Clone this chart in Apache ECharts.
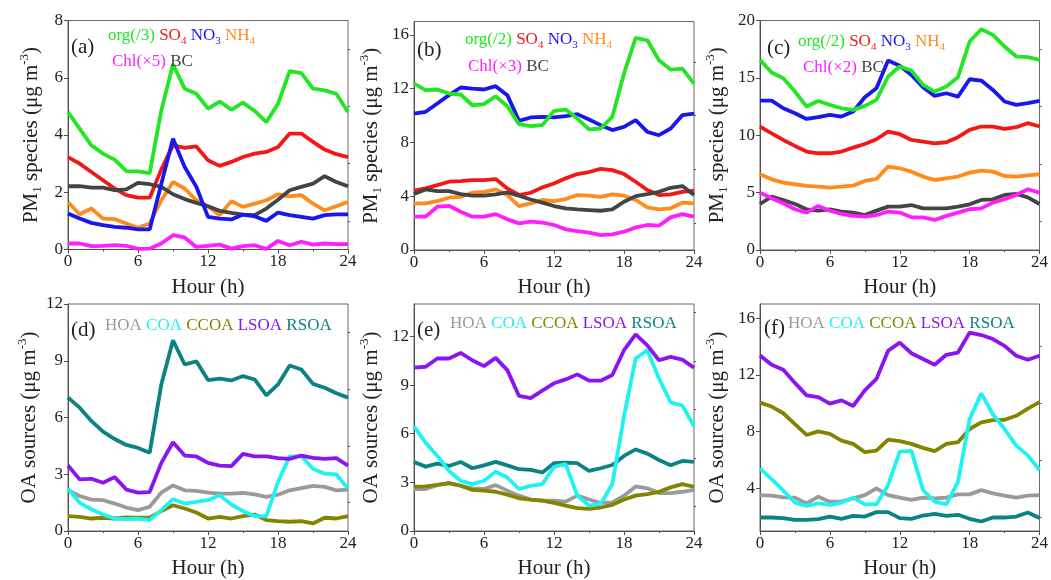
<!DOCTYPE html>
<html><head><meta charset="utf-8">
<script src="https://cdn.jsdelivr.net/npm/echarts@6/dist/echarts.min.js"></script>
<style>html,body{margin:0;padding:0;background:#fff}#c{width:1051px;height:580px}</style>
</head><body><div id="c"></div>
<script>
const hours = [0,1,2,3,4,5,6,7,8,9,10,11,12,13,14,15,16,17,18,19,20,21,22,23,24];

// Panel (a)
const a_org = [4.80,4.22,3.64,3.35,3.14,2.74,2.73,2.67,4.86,6.47,5.62,5.44,4.92,5.17,4.88,5.13,4.84,4.45,5.09,6.23,6.16,5.62,5.56,5.44,4.80];
const a_so4 = [3.23,3.00,2.71,2.42,2.13,1.90,1.81,1.81,2.80,3.64,3.55,3.60,3.12,2.92,3.06,3.23,3.35,3.41,3.58,4.05,4.05,3.76,3.49,3.33,3.23];
const a_no3 = [1.26,1.08,0.93,0.85,0.79,0.76,0.70,0.70,2.30,3.87,2.88,2.19,1.14,1.08,1.05,1.22,1.16,1.00,1.29,1.20,1.14,1.08,1.20,1.23,1.23];
const a_nh4 = [1.66,1.23,1.43,1.08,1.06,0.91,0.76,0.91,1.72,2.36,2.13,1.72,1.51,1.20,1.69,1.49,1.60,1.72,1.93,1.86,1.90,1.60,1.37,1.51,1.66];
const a_chl = [0.21,0.21,0.12,0.13,0.15,0.13,0.02,0.03,0.21,0.50,0.42,0.09,0.13,0.17,0.03,0.12,0.15,0.02,0.30,0.15,0.27,0.17,0.21,0.19,0.19];
const a_bc  = [2.21,2.21,2.16,2.16,2.07,2.10,2.33,2.28,2.19,1.93,1.76,1.63,1.51,1.35,1.28,1.22,1.20,1.43,1.74,2.07,2.19,2.30,2.56,2.36,2.21];

// Panel (b)
const b_org = [12.38,11.89,11.94,11.64,11.57,10.77,10.85,11.44,10.70,9.36,9.21,9.29,10.35,10.45,9.78,8.97,9.04,9.91,13.13,15.78,15.60,14.12,13.42,13.50,12.38];
const b_so4 = [4.41,4.58,4.83,5.08,5.13,5.20,5.20,5.28,4.58,4.09,4.26,4.66,4.95,5.33,5.65,5.80,6.04,5.94,5.65,5.08,4.46,4.09,4.14,4.33,4.41];
const b_no3 = [10.15,10.28,10.90,11.52,12.09,12.01,11.94,12.19,11.52,9.61,9.86,9.91,9.86,9.96,10.11,9.71,9.29,8.92,9.16,9.66,8.79,8.54,9.04,10.03,10.15];
const b_nh4 = [3.47,3.47,3.64,3.89,3.96,4.26,4.33,4.51,4.09,3.27,3.47,3.72,3.64,3.79,4.09,4.04,3.96,4.14,4.04,3.72,3.17,3.02,3.10,3.52,3.47];
const b_chl = [2.48,2.48,3.22,3.29,2.85,2.48,2.48,2.67,2.28,1.98,2.11,2.03,1.86,1.54,1.41,1.29,1.11,1.16,1.36,1.68,1.86,1.81,2.43,2.67,2.48];
const b_bc  = [4.16,4.51,4.38,4.38,4.16,4.04,4.04,4.14,4.28,4.04,3.76,3.52,3.27,3.10,3.02,2.97,2.92,3.02,3.59,4.01,4.16,4.33,4.63,4.76,4.09];

// Panel (c)
const c_org = [16.57,15.47,14.97,13.81,12.50,12.99,12.65,12.35,12.21,12.56,13.08,15.12,15.99,15.64,14.39,13.81,14.24,15.06,18.17,19.24,18.75,17.73,16.86,16.80,16.57];
const c_so4 = [10.76,10.17,9.59,9.07,8.58,8.43,8.43,8.58,8.92,9.24,9.65,10.32,10.09,9.59,9.45,9.30,9.39,9.83,10.47,10.76,10.76,10.55,10.70,11.05,10.76];
const c_no3 = [13.02,13.02,12.35,11.92,11.42,11.57,11.77,11.63,12.06,13.31,14.10,16.51,16.05,15.26,14.19,13.43,13.66,13.37,14.88,14.77,13.95,12.94,12.65,12.79,12.99];
const c_nh4 = [6.60,6.16,5.87,5.73,5.58,5.52,5.44,5.52,5.61,6.02,6.19,7.27,7.12,6.83,6.40,6.10,6.25,6.40,6.74,6.92,6.83,6.45,6.40,6.51,6.60];
const c_chl = [5.00,4.51,4.07,3.55,3.26,3.84,3.43,3.14,2.97,2.91,3.05,3.34,3.26,2.85,2.85,2.62,2.97,3.26,3.55,3.63,4.13,4.42,4.80,5.29,5.00];
const c_bc  = [4.01,4.65,4.36,4.01,3.55,3.43,3.55,3.34,3.26,3.05,3.43,3.78,3.78,3.92,3.63,3.63,3.63,3.78,3.98,4.36,4.42,4.80,4.88,4.59,4.01];

// Panel (d)
const d_hoa  = [2.15,1.85,1.66,1.63,1.45,1.24,1.10,1.28,2.03,2.41,2.15,2.12,2.03,1.98,1.98,2.01,1.94,1.80,1.92,2.15,2.27,2.38,2.33,2.15,2.19];
const d_coa  = [2.24,1.49,1.15,0.87,0.66,0.63,0.66,0.58,1.10,1.68,1.45,1.54,1.63,1.89,1.40,1.05,0.79,0.79,2.59,3.95,3.95,3.29,3.03,2.99,2.24];
const d_ccoa = [0.79,0.75,0.66,0.70,0.66,0.72,0.70,0.70,1.05,1.36,1.19,0.98,0.66,0.75,0.66,0.79,0.87,0.58,0.52,0.49,0.52,0.40,0.70,0.66,0.79];
const d_lsoa = [3.46,2.73,2.76,2.55,2.85,2.19,2.03,2.06,3.60,4.69,3.99,3.94,3.60,3.46,3.43,4.08,3.94,3.95,3.85,3.81,3.99,3.87,3.81,3.85,3.46];
const d_rsoa = [7.05,6.52,5.82,5.25,4.86,4.55,4.39,4.13,7.75,10.08,8.80,8.97,7.98,8.06,7.96,8.19,8.01,7.17,7.75,8.75,8.54,7.78,7.57,7.28,7.05];

// Panel (e)
const e_hoa  = [2.59,2.59,2.83,2.95,2.79,2.63,2.59,2.83,2.49,2.18,1.94,1.87,1.87,1.81,2.18,1.94,1.73,1.77,2.18,2.75,2.63,2.34,2.34,2.42,2.53];
const e_coa  = [6.46,5.44,4.63,3.71,3.10,2.89,3.10,3.65,3.30,2.59,2.79,2.89,3.95,4.12,2.18,1.57,1.67,2.89,7.07,10.64,11.15,9.41,7.93,7.74,6.46];
const e_ccoa = [2.73,2.75,2.85,2.95,2.79,2.53,2.49,2.42,2.24,2.02,1.94,1.87,1.73,1.57,1.41,1.37,1.45,1.61,1.94,2.18,2.28,2.42,2.69,2.89,2.73];
const e_lsoa = [10.07,10.13,10.64,10.64,10.98,10.53,10.17,10.68,9.92,8.33,8.19,8.66,9.11,9.35,9.66,9.27,9.27,9.62,11.15,12.12,11.45,10.53,10.74,10.57,10.07];
const e_rsoa = [4.26,3.97,4.16,4.01,4.26,3.87,4.05,4.26,4.05,3.81,3.77,3.61,4.18,4.22,4.18,3.71,3.87,4.07,4.63,5.03,4.77,4.38,4.05,4.32,4.26];

// Panel (f)
const f_hoa  = [3.53,3.49,3.37,3.35,2.95,3.42,3.07,3.07,3.30,3.53,4.00,3.53,3.35,3.19,3.35,3.30,3.35,3.58,3.58,3.88,3.65,3.49,3.35,3.49,3.53];
const f_coa  = [5.40,4.65,3.84,3.00,2.77,2.95,2.84,3.00,3.35,2.88,2.88,4.23,6.60,6.65,3.88,3.07,2.88,4.47,8.88,10.70,9.23,8.19,7.02,6.33,5.28];
const f_ccoa = [10.05,9.77,9.30,8.53,7.77,8.02,7.84,7.37,7.14,6.56,6.67,7.44,7.33,7.14,6.86,6.63,7.14,7.26,8.19,8.65,8.81,8.84,9.12,9.63,10.09];
const f_lsoa = [13.37,12.72,12.37,11.44,10.56,10.44,9.98,10.21,9.81,10.91,11.72,13.70,14.28,13.53,13.12,12.72,13.42,13.58,14.98,14.81,14.53,14.05,13.35,13.07,13.35];
const f_rsoa = [1.95,1.95,1.91,1.79,1.79,1.84,2.02,1.86,2.07,2.02,2.33,2.33,1.91,1.86,2.09,2.21,2.07,2.14,1.86,1.67,1.95,1.95,2.02,2.30,1.91];

// Axis ticks
const xTicks = [0,6,12,18,24];
const yMajor = {a:[0,2,4,6,8], b:[0,4,8,12,16], c:[0,5,10,15,20], d:[0,3,6,9,12], e:[0,3,6,9,12], f:[4,8,12,16]};
const yMinor = {a:[1,3,5,7], b:[2,6,10,14], c:[2.5,7.5,12.5,17.5], d:[1.5,4.5,7.5,10.5], e:[1.5,4.5,7.5,10.5,13.5], f:[2,6,10,14]};
const yRange = {a:[0,8], b:[0,17], c:[0,20], d:[0,12], e:[0,14], f:[1,17]};

const COL = {org:'#22e622', so4:'#f21818', no3:'#1818ee', nh4:'#ff8c1a', chl:'#ff1eff', bc:'#444444',
             hoa:'#9a9a9a', coa:'#1ff2f2', ccoa:'#848400', lsoa:'#8a14f2', rsoa:'#0c8282'};

const FONT = 'Liberation Serif';
const grids = [
  {left:68, top:20.5, width:280, height:229},
  {left:414, top:21.5, width:280, height:228.5},
  {left:760, top:20.5, width:280, height:229.5},
  {left:68, top:304, width:280, height:229},
  {left:414, top:304, width:280, height:228.5},
  {left:760, top:304, width:280, height:228.5}
];
const keys = ['a','b','c','d','e','f'];
const panelSeries = [
  [['org',a_org],['so4',a_so4],['nh4',a_nh4],['bc',a_bc],['no3',a_no3],['chl',a_chl]],
  [['so4',b_so4],['nh4',b_nh4],['bc',b_bc],['chl',b_chl],['no3',b_no3],['org',b_org]],
  [['so4',c_so4],['nh4',c_nh4],['bc',c_bc],['chl',c_chl],['no3',c_no3],['org',c_org]],
  [['hoa',d_hoa],['ccoa',d_ccoa],['coa',d_coa],['lsoa',d_lsoa],['rsoa',d_rsoa]],
  [['hoa',e_hoa],['ccoa',e_ccoa],['rsoa',e_rsoa],['coa',e_coa],['lsoa',e_lsoa]],
  [['rsoa',f_rsoa],['hoa',f_hoa],['ccoa',f_ccoa],['coa',f_coa],['lsoa',f_lsoa]]
];

const axisColor = '#505050';
const nameRich = {
  sub:{fontFamily:FONT, fontSize:13, fontWeight:'normal', verticalAlign:'bottom', color:'#222'},
  sup:{fontFamily:FONT, fontSize:13, fontWeight:'normal', verticalAlign:'top', color:'#222'}
};

const xAxes = [], yAxes = [], series = [];
grids.forEach((g, i) => {
  g.show = true; g.borderColor = '#6a6a6a'; g.borderWidth = 1; g.backgroundColor = 'transparent';
  xAxes.push({
    type:'value', gridIndex:i, min:0, max:24, interval:6,
    axisLine:{lineStyle:{color:axisColor, width:1}},
    axisTick:{length:4, lineStyle:{color:axisColor}},
    minorTick:{show:true, splitNumber:2, length:2, lineStyle:{color:axisColor}},
    splitLine:{show:false},
    axisLabel:{fontFamily:FONT, fontSize:17, fontWeight:'normal', color:'#222', margin:4},
    name:'Hour (h)', nameLocation:'middle', nameGap:27,
    nameTextStyle:{fontFamily:FONT, fontSize:21, fontWeight:'normal', color:'#222'}
  });
  const k = keys[i];
  const top = i < 3;
  yAxes.push({
    type:'value', gridIndex:i, min:yRange[k][0], max:yRange[k][1],
    axisLine:{lineStyle:{color:axisColor, width:1}},
    axisTick:{length:4, customValues:yMajor[k], lineStyle:{color:axisColor}},
    splitLine:{show:false},
    axisLabel:{fontFamily:FONT, fontSize:17, fontWeight:'normal', color:'#222', margin:5, customValues:yMajor[k]},
    name: top ? 'PM{sub|1} species (μg m{sup|-3})' : 'OA sources (μg m{sup|-3})',
    nameLocation:'middle', nameRotate:90, nameGap: (k==='b'||k==='c'||k==='e'||k==='f') ? 30 : 24,
    nameTextStyle:{fontFamily:FONT, fontSize:21, fontWeight:'normal', color:'#222', lineHeight:26, rich:nameRich}
  });
  yAxes.push({
    type:'value', gridIndex:i, min:yRange[k][0], max:yRange[k][1],
    axisLine:{show:false}, splitLine:{show:false},
    axisTick:{length:2, customValues:yMinor[k], lineStyle:{color:axisColor}},
    axisLabel:{show:false, customValues:yMinor[k]}
  });
  panelSeries[i].forEach(([key, vals]) => {
    series.push({
      type:'line', xAxisIndex:i, yAxisIndex:2*i, symbol:'none', smooth:false,
      lineStyle:{color:COL[key], width:3.8}, itemStyle:{color:COL[key]},
      data: hours.map((h, j) => [h, vals[j]])
    });
  });
});

function rs(color, size, extra) { return Object.assign({fontFamily:FONT, fontSize:size, fontWeight:'normal', color:color, lineHeight:22}, extra||{}); }
const legRich = {};
Object.keys(COL).forEach(c => {
  legRich[c] = rs(COL[c], 17);
  legRich[c + 's'] = {fontFamily:FONT, fontSize:11, fontWeight:'normal', color:COL[c], verticalAlign:'bottom'};
});
const ionLine = (org) => '{org|' + org + '} {so4|SO}{so4s|4} {no3|NO}{no3s|3} {nh4|NH}{nh4s|4}';
const chlLine = (f) => '{chl|Chl(×' + f + ')} {bc|BC}';
const oaLine = '{hoa|HOA} {coa|COA} {ccoa|CCOA} {lsoa|LSOA} {rsoa|RSOA}';

const titles = [];
function addTitle(text, left, topPx, rich, size) {
  titles.push({text:text, left:left, top:topPx, padding:0,
    textStyle:{fontFamily:FONT, fontSize:size||17, fontWeight:'normal', color:'#222', lineHeight:22, rich:rich||legRich}});
}
const labStyle = {fontFamily:FONT, fontSize:21, color:'#222'};
// panel letters
[['(a)',71,37],['(b)',417,40],['(c)',767,38],['(d)',71,320],['(e)',417,320],['(f)',764,318]].forEach(t => {
  titles.push({text:t[0], left:t[1], top:t[2], padding:0, textStyle:Object.assign({fontWeight:'normal'}, labStyle)});
});
addTitle(ionLine('org(/3)'), 108, 25);
addTitle(chlLine(5), 112, 51);
addTitle(ionLine('org(/2)'), 465, 29);
addTitle(chlLine(3), 468, 56);
addTitle(ionLine('org(/2)'), 798, 31);
addTitle(chlLine(2), 803, 57);
addTitle(oaLine, 105, 315);
addTitle(oaLine, 450, 313);
addTitle(oaLine, 788, 313);

const chart = echarts.init(document.getElementById('c'), null, {renderer:'canvas'});
chart.setOption({
  animation:false, backgroundColor:'#fff',
  title:titles, grid:grids, xAxis:xAxes, yAxis:yAxes, series:series
});
</script></body></html>
